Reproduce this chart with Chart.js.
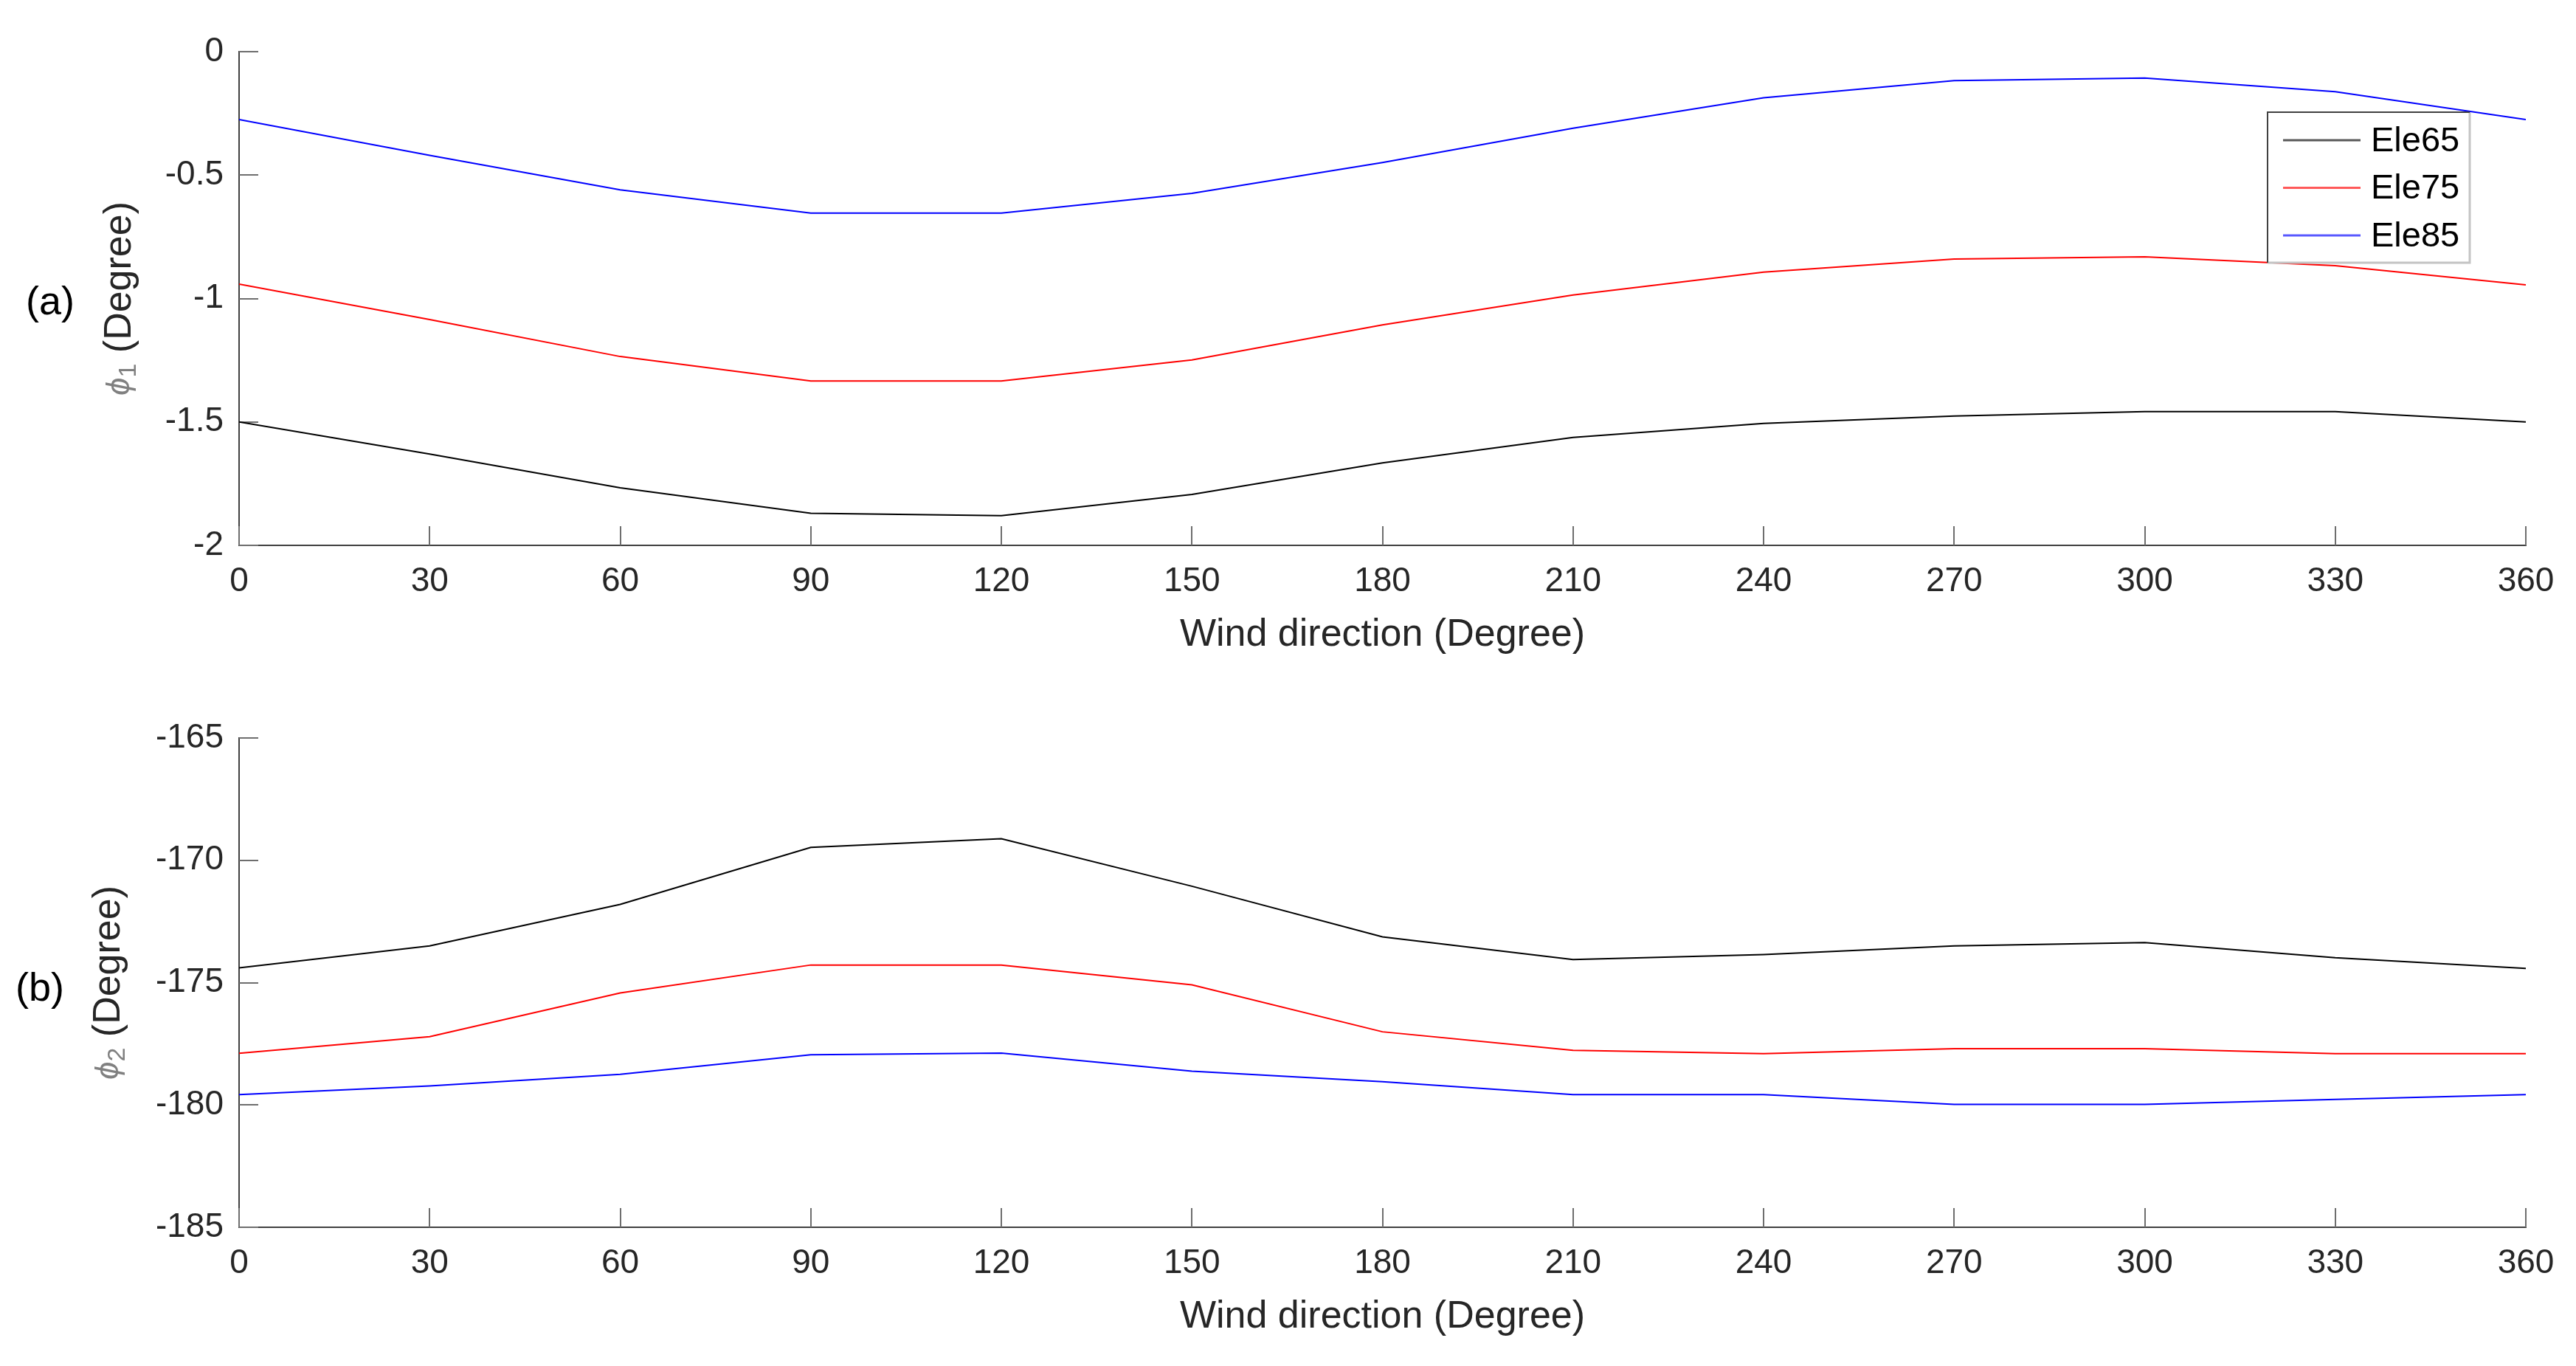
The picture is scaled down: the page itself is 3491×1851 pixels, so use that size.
<!DOCTYPE html>
<html>
<head>
<meta charset="utf-8">
<script src="https://cdn.jsdelivr.net/npm/chart.js@4.4.1/dist/chart.umd.min.js"></script>
<style>
html, body { margin: 0; padding: 0; background: #fff; }
canvas { position: absolute; left: 0; display: block; }
</style>
</head>
<body>
<canvas id="chartA" width="3491" height="925" style="top:0px"></canvas>
<canvas id="chartB" width="3491" height="926" style="top:925px"></canvas>
<script>
// wind direction (x axis), degrees
const windDir = [0, 30, 60, 90, 120, 150, 180, 210, 240, 270, 300, 330, 360];
const seriesNames = ['Ele65', 'Ele75', 'Ele85'];
const seriesColors = ['#000000', '#ff0000', '#0000ff'];

// panel (a): phi1
const phi1Ele65 = [-1.50, -1.63, -1.767, -1.87, -1.88, -1.794, -1.666, -1.563, -1.506, -1.476, -1.458, -1.458, -1.50];
const phi1Ele75 = [-0.942, -1.085, -1.235, -1.334, -1.334, -1.249, -1.107, -0.986, -0.893, -0.84, -0.831, -0.867, -0.945];
const phi1Ele85 = [-0.275, -0.42, -0.56, -0.654, -0.654, -0.574, -0.449, -0.31, -0.187, -0.117, -0.107, -0.162, -0.275];

// panel (b): phi2
const phi2Ele65 = [-174.40, -173.5, -171.8, -169.47, -169.12, -171.06, -173.13, -174.06, -173.85, -173.5, -173.36, -173.98, -174.42];
const phi2Ele75 = [-177.89, -177.21, -175.42, -174.28, -174.28, -175.09, -177.01, -177.77, -177.9, -177.7, -177.7, -177.9, -177.9];
const phi2Ele85 = [-179.58, -179.22, -178.75, -177.95, -177.88, -178.62, -179.05, -179.58, -179.58, -179.98, -179.98, -179.77, -179.58];

const xTicksStep = 30;
const phi1Range = [-2, 0, 0.5];
const phi2Range = [-185, -165, 5];

const FONT = '"Liberation Sans", Arial, Helvetica, sans-serif';

function toPoints(vals) {
    return vals.map((v, i) => ({ x: windDir[i], y: v }));
}

function makeDatasets(lists) {
    return lists.map((vals, i) => ({
        label: seriesNames[i],
        data: toPoints(vals),
        borderColor: seriesColors[i],
        borderWidth: 2,
        pointRadius: 0,
        fill: false,
        tension: 0
    }));
}

// MATLAB-style ticks pointing into the plot
const innerTicks = {
    id: 'innerTicks',
    beforeDatasetsDraw(chart) {
        const { ctx, scales: { x, y } } = chart;
        ctx.save();
        ctx.strokeStyle = '#6e6e6e';
        ctx.lineWidth = 2;
        ctx.beginPath();
        x.ticks.forEach(t => {
            const px = Math.round(x.getPixelForValue(t.value));
            ctx.moveTo(px, y.bottom);
            ctx.lineTo(px, y.bottom - 26);
        });
        y.ticks.forEach(t => {
            const py = Math.round(y.getPixelForValue(t.value));
            ctx.moveTo(x.left, py);
            ctx.lineTo(x.left + 26, py);
        });
        ctx.stroke();
        ctx.restore();
    }
};

// panel letter and the phi y-axis title
const sideText = {
    id: 'sideText',
    afterDraw(chart, args, opts) {
        const { ctx, chartArea } = chart;
        const mid = (chartArea.top + chartArea.bottom) / 2;
        ctx.save();
        ctx.fillStyle = '#000';
        ctx.font = '54px ' + FONT;
        ctx.textAlign = 'center';
        ctx.textBaseline = 'middle';
        ctx.fillText(opts.panel, opts.panelX, opts.panelY);

        ctx.translate(opts.titleX, mid);
        ctx.rotate(-Math.PI / 2);
        const mainFont = '52px ' + FONT;
        const phiFont = 'italic 44px ' + FONT;
        const subFont = '34px ' + FONT;
        ctx.font = phiFont; const wPhi = ctx.measureText('ϕ').width;
        ctx.font = subFont; const wSub = ctx.measureText(opts.sub).width;
        ctx.font = mainFont; const wMain = ctx.measureText(' (Degree)').width;
        let cx = -(wPhi + wSub + wMain) / 2;
        ctx.textAlign = 'left';
        ctx.fillStyle = '#808080';
        ctx.font = phiFont;
        ctx.fillText('ϕ', cx, 0);
        cx += wPhi;
        ctx.font = subFont;
        ctx.fillText(opts.sub, cx, 12);
        cx += wSub;
        ctx.fillStyle = '#262626';
        ctx.font = mainFont;
        ctx.fillText(' (Degree)', cx, 0);
        ctx.restore();
    }
};

// boxed legend inside the upper panel
const boxLegend = {
    id: 'boxLegend',
    afterDraw(chart, args, opts) {
        if (!opts.show) return;
        const ctx = chart.ctx;
        const b = opts.box;
        ctx.save();
        ctx.fillStyle = '#fff';
        ctx.fillRect(b.left, b.top, b.right - b.left, b.bottom - b.top);
        ctx.lineWidth = 3;
        ctx.strokeStyle = '#c4c4c4';
        ctx.beginPath();
        ctx.moveTo(b.right, b.top); ctx.lineTo(b.right, b.bottom); ctx.lineTo(b.left, b.bottom);
        ctx.stroke();
        ctx.lineWidth = 2;
        ctx.strokeStyle = '#404040';
        ctx.beginPath();
        ctx.moveTo(b.left, b.bottom); ctx.lineTo(b.left, b.top); ctx.lineTo(b.right, b.top);
        ctx.stroke();
        ctx.font = '47px ' + FONT;
        ctx.textBaseline = 'middle';
        ctx.textAlign = 'left';
        chart.data.datasets.forEach((ds, i) => {
            const yy = opts.firstY + i * opts.rowGap;
            ctx.strokeStyle = ds.borderColor;
            ctx.globalAlpha = 0.65;
            ctx.lineWidth = 3;
            ctx.beginPath();
            ctx.moveTo(b.left + 21, yy);
            ctx.lineTo(b.left + 126, yy);
            ctx.stroke();
            ctx.globalAlpha = 1;
            ctx.fillStyle = '#000';
            ctx.fillText(ds.label, b.left + 140, yy + 2);
        });
        ctx.restore();
    }
};

function makeChart(id, lists, range, cfg) {
    return new Chart(id, {
        type: 'line',
        data: { datasets: makeDatasets(lists) },
        options: {
            responsive: false,
            devicePixelRatio: 1,
            animation: false,
            events: [],
            layout: { padding: { left: 0, top: cfg.areaTop, right: 68, bottom: 0 } },
            plugins: {
                legend: { display: false },
                tooltip: { enabled: false },
                sideText: cfg.side,
                boxLegend: cfg.legend
            },
            scales: {
                x: {
                    type: 'linear',
                    min: 0,
                    max: 360,
                    ticks: {
                        stepSize: xTicksStep,
                        padding: 22,
                        color: '#262626',
                        maxRotation: 0,
                        autoSkip: false,
                        font: { family: FONT, size: 46 }
                    },
                    grid: { display: false, drawTicks: false },
                    border: { display: true, color: '#404040', width: 2 },
                    title: {
                        display: true,
                        text: 'Wind direction (Degree)',
                        color: '#262626',
                        font: { family: FONT, size: 52 },
                        padding: { top: 0, bottom: cfg.titlePad }
                    },
                    afterFit(s) { s.height = cfg.xHeight; }
                },
                y: {
                    type: 'linear',
                    min: range[0],
                    max: range[1],
                    ticks: {
                        stepSize: range[2],
                        padding: 21,
                        color: '#262626',
                        font: { family: FONT, size: 46 },
                        callback: v => String(Math.round(v * 100) / 100)
                    },
                    grid: { display: false, drawTicks: false },
                    border: { display: true, color: '#404040', width: 2 },
                    afterFit(s) { s.width = 324; }
                }
            }
        },
        plugins: [innerTicks, sideText, boxLegend]
    });
}

makeChart('chartA', [phi1Ele65, phi1Ele75, phi1Ele85], phi1Range, {
    areaTop: 70,
    xHeight: 186,
    titlePad: 33,
    side: { panel: '(a)', panelX: 68, panelY: 411, titleX: 163, sub: '1' },
    legend: { show: true, box: { left: 3073, top: 152, right: 3347, bottom: 356 }, firstY: 190, rowGap: 64.5 }
});

makeChart('chartB', [phi2Ele65, phi2Ele75, phi2Ele85], phi2Range, {
    areaTop: 75,
    xHeight: 188,
    titlePad: 35,
    side: { panel: '(b)', panelX: 54, panelY: 416, titleX: 148, sub: '2' },
    legend: { show: false }
});
</script>
</body>
</html>
